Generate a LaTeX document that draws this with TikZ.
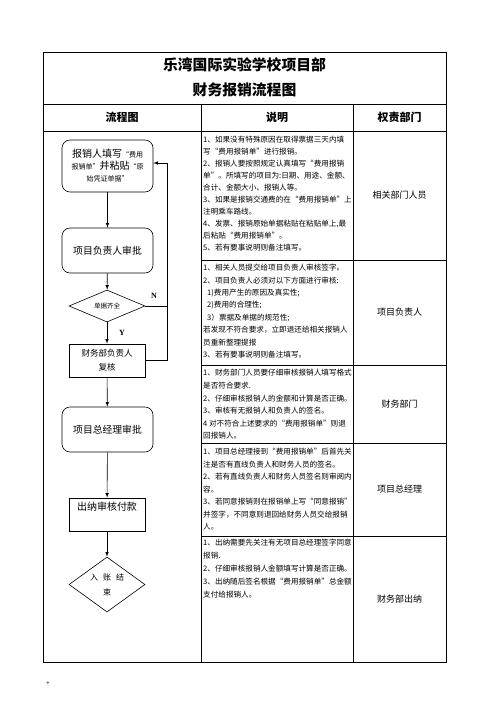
\documentclass[tikz,border=0pt]{standalone}
\usepackage{fontspec}
\setmainfont{Noto Sans CJK SC}
\newfontfamily\latinserif{Liberation Serif}
\usetikzlibrary{shapes.geometric,arrows}

% taille de police en pt (corps = interligne)
\newcommand{\fsz}[1]{\fontsize{#1}{#1}\selectfont}

\begin{document}
\begin{tikzpicture}[x=1pt, y=-1pt,
    roundbox/.style={draw, rounded corners=8pt, minimum width=91pt, inner sep=0pt, align=center, line width=0.6pt},
    squarebox/.style={draw, minimum width=76pt, minimum height=33pt, inner sep=0pt, align=center, line width=0.6pt},
    decision/.style={draw, diamond, aspect=2.4, inner sep=0pt, align=center, line width=0.6pt},
    flow/.style={->, >=latex, line width=0.6pt},
    tableline/.style={line width=1pt},
    memo/.style={anchor=west, inner sep=0pt, font=\fsz{7.6}},
    duty/.style={font=\fsz{9}},
    yesno/.style={font=\latinserif\bfseries\fsz{8}}]

    % Cadre de la page
    \useasboundingbox (0,0) rectangle (496,702);

    % Colonnes et lignes du tableau
    \def\xl{43} \def\xa{201} \def\xb{353} \def\xr{446}
    \draw[tableline] (\xl,52) rectangle (\xr,662);
    \draw[tableline] (\xl,104) -- (\xr,104);
    \draw[tableline] (\xl,131) -- (\xr,131);
    \draw[tableline] (\xa,104) -- (\xa,662);
    \draw[tableline] (\xb,104) -- (\xb,662);
    \foreach \y in {260,365,443,536} {
        \draw[tableline] (\xa,\y) -- (\xr,\y);
    }

    % Titre et en-tetes
    \node[font=\bfseries\fsz{14.8}] (title1) at (244.5,65) {乐湾国际实验学校项目部};
    \node[font=\bfseries\fsz{14.8}] (title2) at (244.5,90) {财务报销流程图};
    \node[font=\bfseries\fsz{11}] (headflow) at (122,117.5) {流程图};
    \node[font=\bfseries\fsz{11}] (headmemo) at (277,117.5) {说明};
    \node[font=\bfseries\fsz{11}] (headduty) at (399.5,117.5) {权责部门};

    % Organigramme (colonne de gauche)
    \node[roundbox, minimum height=52pt] (fill) at (107.5,166)
        {\fontsize{10}{14.5}\selectfont 报销人填写{\fsz{7}“费用}\\{\fsz{7}报销单”}并粘贴{\fsz{7}“原}\\{\fsz{7}始凭证单据”}};
    \node[roundbox, minimum height=45pt, font=\fsz{9.8}] (approve) at (107.5,250.5) {项目负责人审批};
    \node[decision, minimum width=76pt, minimum height=32pt, font=\fsz{6.5}] (check) at (107,306) {单据齐全};
    \node[squarebox, font=\fontsize{8.5}{14}\selectfont] (verify) at (107,360.5) {财务部负责人\\复核};
    \node[roundbox, minimum height=45pt, font=\fsz{9.8}] (gm) at (107.5,429.5) {项目总经理审批};
    \node[squarebox] (pay) at (107,514.5) {};
    \node[below=4pt, inner sep=0pt, font=\fsz{10}] (paytext) at (pay.north) {出纳审核付款};
    \node[decision, aspect=1.4, minimum width=76pt, minimum height=55pt, font=\fontsize{8}{15}\selectfont] (done) at (107,584.5) {入\hspace{5pt}账\hspace{5pt}结\\束};

    % Fleches principales
    \draw[flow] (fill) -- (approve);
    \draw[flow] (approve) -- (check);
    \draw[flow] (check) -- (verify);
    \draw[flow] (verify) -- (gm);
    \draw[flow] (gm) -- (pay);
    \draw[flow] (pay) -- (done);

    % Retour vers le demandeur
    \coordinate (backN) at (167,306);
    \coordinate (backTop) at (167,163);
    \draw[line width=0.6pt] (check.east) -- (backN);
    \draw[flow] (verify.east) -| (backTop) -- (fill.east |- backTop);
    \node[yesno] (nmark) at (154,296) {N};
    \node[yesno] (ymark) at (122,333) {Y};

    % Explications, ligne par ligne
    \foreach \t [count=\i] in {
        {1、如果没有特殊原因在取得票据三天内填},
        {写“费用报销单”进行报销。},
        {2、报销人要按照规定认真填写“费用报销},
        {单”。所填写的项目为:日期、用途、金额、},
        {合计、金额大小、报销人等。},
        {3、如果是报销交通费的在“费用报销单”上},
        {注明乘车路线。},
        {4、发票、报销原始单据粘贴在粘贴单上,最},
        {后粘贴“费用报销单”。},
        {5、若有要事说明则备注填写。}} {
        \pgfmathsetmacro{\y}{140+(\i-1)*12}
        \node[memo] (memoa\i) at (203,\y) {\t};
    }
    \foreach \t [count=\i] in {
        {1、相关人员提交给项目负责人审核签字。},
        {2、项目负责人必须对以下方面进行审核:},
        {\hspace{4pt}1)费用产生的原因及真实性;},
        {\hspace{4pt}2)费用的合理性;},
        {\hspace{4pt}3）票据及单据的规范性;},
        {若发现不符合要求，立即退还给相关报销人},
        {员重新整理提报},
        {3、若有要事说明则备注填写。}} {
        \pgfmathsetmacro{\y}{268+(\i-1)*12.4}
        \node[memo] (memob\i) at (203,\y) {\t};
    }
    \foreach \t [count=\i] in {
        {1、财务部门人员要仔细审核报销人填写格式},
        {是否符合要求.},
        {2、仔细审核报销人的金额和计算是否正确。},
        {3、审核有无报销人和负责人的签名。},
        {4 对不符合上述要求的“费用报销单”则退},
        {回报销人。}} {
        \pgfmathsetmacro{\y}{373+(\i-1)*12.6}
        \node[memo] (memoc\i) at (203,\y) {\t};
    }
    \foreach \t [count=\i] in {
        {1、项目总经理接到“费用报销单”后首先关},
        {注是否有直线负责人和财务人员的签名。},
        {2、若有直线负责人和财务人员签名则审阅内},
        {容。},
        {3、若同意报销则在报销单上写“同意报销”},
        {并签字，不同意则退回给财务人员交给报销},
        {人。}} {
        \pgfmathsetmacro{\y}{452+(\i-1)*12.5}
        \node[memo] (memod\i) at (203,\y) {\t};
    }
    \foreach \t [count=\i] in {
        {1、出纳需要先关注有无项目总经理签字同意},
        {报销.},
        {2、仔细审核报销人金额填写计算是否正确。},
        {3、出纳随后签名根据“费用报销单”总金额},
        {支付给报销人。}} {
        \pgfmathsetmacro{\y}{543+(\i-1)*13}
        \node[memo] (memoe\i) at (203,\y) {\t};
    }

    % Responsables (colonne de droite)
    \node[duty] (dutya) at (399.5,195.5) {相关部门人员};
    \node[duty] (dutyb) at (399.5,312.5) {项目负责人};
    \node[duty] (dutyc) at (399.5,404) {财务部门};
    \node[duty] (dutyd) at (399.5,489.5) {项目总经理};
    \node[duty] (dutye) at (399.5,599) {财务部出纳};

    % Marque de paragraphe sous le tableau
    \node[font=\fsz{6}] (pmark) at (48,684) {+};

\end{tikzpicture}
\end{document}
